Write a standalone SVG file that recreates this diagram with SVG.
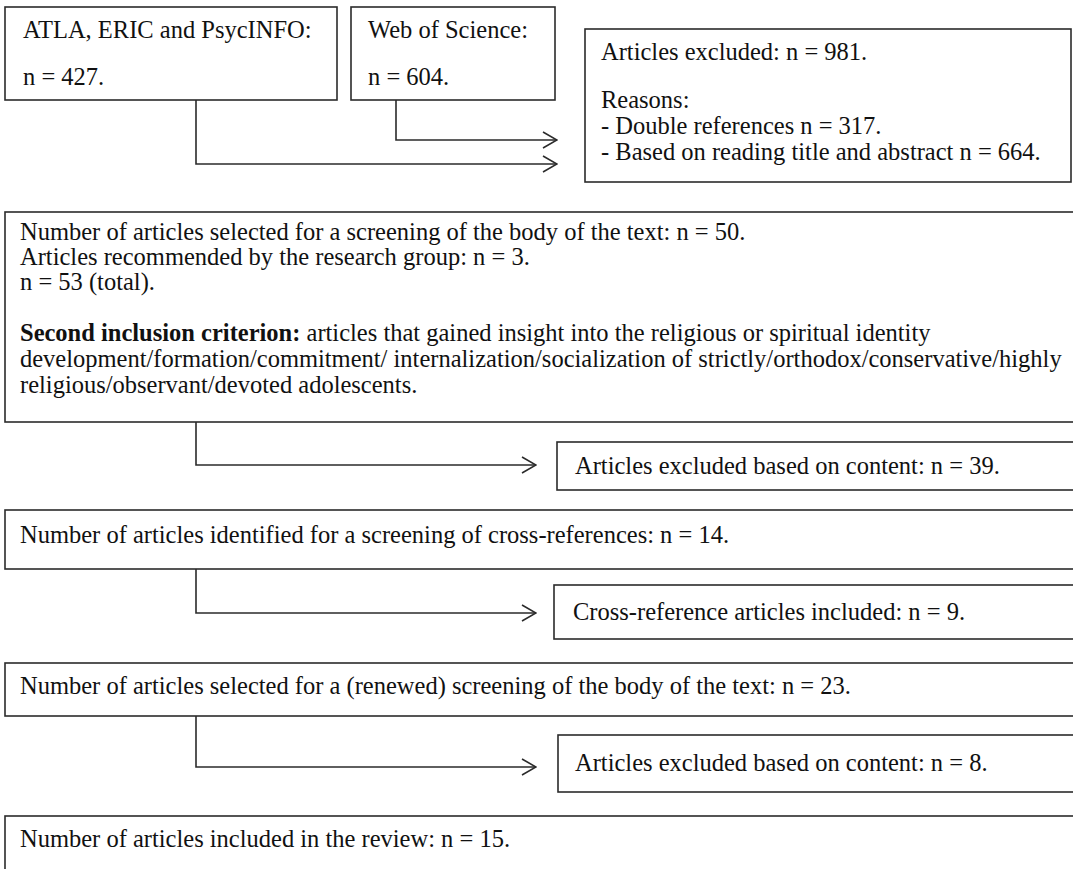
<svg xmlns="http://www.w3.org/2000/svg" width="1073" height="869" viewBox="0 0 1073 869">
<style>
.box{fill:#fff;stroke:#2b2b2b;stroke-width:1.6}
.t{font-family:"Liberation Serif","Times New Roman",serif;font-size:24.5px;fill:#111}
.b{font-weight:bold}
.c{fill:none;stroke:#2b2b2b;stroke-width:1.6}
</style>
<defs>
<marker id="arr" viewBox="0 0 16 18" refX="15" refY="9" markerWidth="16" markerHeight="18" markerUnits="userSpaceOnUse" orient="auto">
<path d="M1,1 L15,9 L1,17" fill="none" stroke="#2b2b2b" stroke-width="1.6"/>
</marker>
</defs>
<rect width="1073" height="869" fill="#fff"/>
<g id="connectors">
<path class="c" d="M196,100 V164 H557" marker-end="url(#arr)"/>
<path class="c" d="M396,100 V140 H557" marker-end="url(#arr)"/>
<path class="c" d="M196,422 V465 H536" marker-end="url(#arr)"/>
<path class="c" d="M196,569 V613 H536" marker-end="url(#arr)"/>
<path class="c" d="M196,716 V767 H536" marker-end="url(#arr)"/>
</g>
<g id="node-atla">
<rect class="box" x="5" y="7" width="332" height="93"/>
<text class="t" x="23" y="38">ATLA, ERIC and PsycINFO:</text>
<text class="t" x="23" y="85">n = 427.</text>
</g>
<g id="node-wos">
<rect class="box" x="351" y="7" width="204" height="93"/>
<text class="t" x="368" y="38">Web of Science:</text>
<text class="t" x="368" y="85">n = 604.</text>
</g>
<g id="node-excluded1">
<rect class="box" x="585" y="29" width="486" height="153"/>
<text class="t" x="601" y="60">Articles excluded: n = 981.</text>
<text class="t" x="601" y="108">Reasons:</text>
<text class="t" x="601" y="134">- Double references n = 317.</text>
<text class="t" x="601" y="160">- Based on reading title and abstract n = 664.</text>
</g>
<g id="node-selected">
<rect class="box" x="5" y="212" width="1080" height="210"/>
<text class="t" x="20" y="240">Number of articles selected for a screening of the body of the text: n = 50.</text>
<text class="t" x="20" y="265">Articles recommended by the research group: n = 3.</text>
<text class="t" x="20" y="290">n = 53 (total).</text>
<text class="t" x="20" y="341"><tspan class="b">Second inclusion criterion:</tspan> articles that gained insight into the religious or spiritual identity</text>
<text class="t" x="20" y="367">development/formation/commitment/ internalization/socialization of strictly/orthodox/conservative/highly</text>
<text class="t" x="20" y="393">religious/observant/devoted adolescents.</text>
</g>
<g id="node-excluded2">
<rect class="box" x="557" y="442" width="530" height="48"/>
<text class="t" x="575" y="474">Articles excluded based on content: n = 39.</text>
</g>
<g id="node-crossref">
<rect class="box" x="5" y="510" width="1080" height="59"/>
<text class="t" x="20" y="543">Number of articles identified for a screening of cross-references: n = 14.</text>
</g>
<g id="node-crossincluded">
<rect class="box" x="554" y="585" width="530" height="54"/>
<text class="t" x="573" y="620">Cross-reference articles included: n = 9.</text>
</g>
<g id="node-renewed">
<rect class="box" x="5" y="663" width="1080" height="53"/>
<text class="t" x="20" y="694">Number of articles selected for a (renewed) screening of the body of the text: n = 23.</text>
</g>
<g id="node-excluded3">
<rect class="box" x="558" y="735" width="530" height="57"/>
<text class="t" x="575" y="771">Articles excluded based on content: n = 8.</text>
</g>
<g id="node-included">
<rect class="box" x="5" y="816" width="1080" height="80"/>
<text class="t" x="20" y="847">Number of articles included in the review: n = 15.</text>
</g>
</svg>
